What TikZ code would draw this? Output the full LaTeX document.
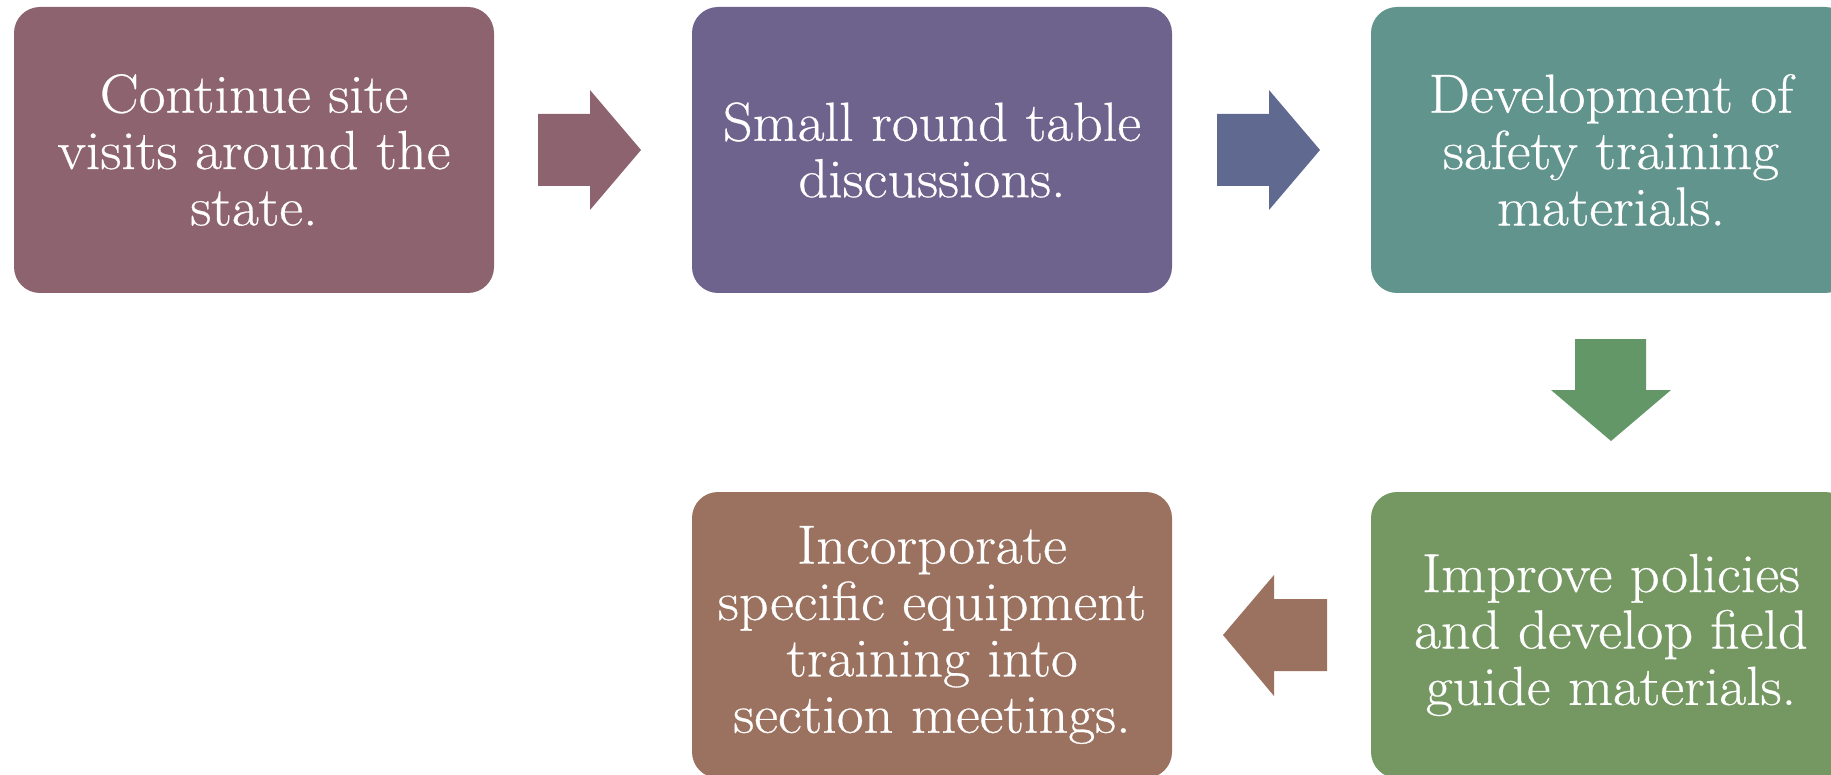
\documentclass[tikz,border=0pt]{standalone}
\usepackage{fontspec}
\setmainfont{Latin Modern Roman}[FakeStretch=1.06, FakeBold=0.5]
\begin{document}
\begin{tikzpicture}[x=0.5pt,y=-0.5pt,
  stepbox/.style={rectangle, rounded corners=13pt, minimum width=240pt, minimum height=143pt,
    inner sep=0pt, align=center, text=white, font=\fontsize{27.5}{28.2}\selectfont}]
\useasboundingbox (0,0) rectangle (1831,775);
\clip (0,0) rectangle (1831,775);
\definecolor{cA}{HTML}{8E6370}
\definecolor{cB}{HTML}{6E638D}
\definecolor{cC}{HTML}{62948E}
\definecolor{cD}{HTML}{759863}
\definecolor{cE}{HTML}{9B715F}
\definecolor{aB}{HTML}{606990}
\definecolor{aC}{HTML}{639767}
\node[stepbox, fill=cA] (b1) at (254,150) {Continue site\\visits around the\\state.};
\node[stepbox, fill=cB] (b2) at (932,150) {Small round table\\discussions.};
\node[stepbox, fill=cC] (b3) at (1611,150) {Development of\\safety training\\materials.};
\node[stepbox, fill=cD] (b5) at (1611,635) {Improve policies\\and develop field\\guide materials.};
\node[stepbox, fill=cE] (b4) at (932,635) {Incorporate\\specific equipment\\training into\\section meetings.};
% block arrows
\fill[cA] (538,114) -- (590,114) -- (590,90) -- (641,150) -- (590,210) -- (590,186) -- (538,186) -- cycle;
\fill[aB] (1217,114) -- (1269,114) -- (1269,90) -- (1320,150) -- (1269,210) -- (1269,186) -- (1217,186) -- cycle;
\fill[aC] (1575,339) -- (1646,339) -- (1646,390) -- (1671,390) -- (1611,441) -- (1551,390) -- (1575,390) -- cycle;
\fill[cE] (1327,599) -- (1274,599) -- (1274,575) -- (1223,635) -- (1274,696) -- (1274,671) -- (1327,671) -- cycle;
\end{tikzpicture}
\end{document}
